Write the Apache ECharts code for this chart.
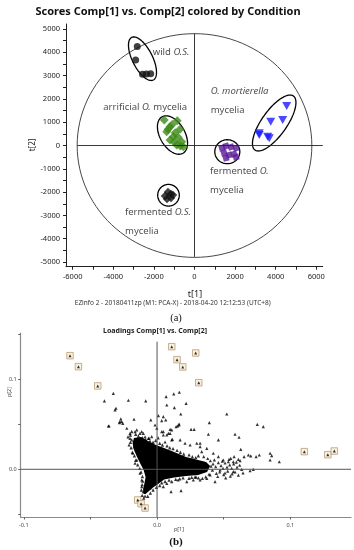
<!DOCTYPE html>
<html><head><meta charset="utf-8">
<script src="https://cdn.jsdelivr.net/npm/echarts@6/dist/echarts.min.js"></script>
<style>html,body{margin:0;padding:0;background:#fff;}#c{width:354px;height:550px;}</style>
</head><body><div id="c"></div>
<script>
// ===== (a) Scores Comp[1] vs Comp[2] =====
const wildOS = [[-2820,4250],[-2900,3670],[-2560,3060],[-2370,3070],[-2160,3080]];
const artificialO = [[-1490,1094],[-850,1064],[-1205,807],[-715,695],[-1370,592],[-1045,378],[-1205,236],[-630,163],[-875,21],[-550,-52],[-1100,900],[-950,550],[-800,350],[-700,-20],[-1000,150],[-1300,700]];
const mortierella = [[4540,1695],[4345,1095],[3755,1020],[3190,525],[3605,380],[3190,450],[3685,310]];
const fermentedO = [[1355,-107],[1550,-21],[1800,-64],[2045,-107],[1455,-322],[1700,-408],[1945,-365],[2045,-494],[1550,-536]];
const fermentedOS = [[-1453,-2167],[-1305,-1996],[-1158,-2082],[-1355,-2296],[-1158,-2253],[-1059,-2124]];
// group ellipses: [cx, cy, semi-axis-1 (dx,dy), semi-axis-2 (dx,dy)] in score units
const groupEllipses = [[-2562,3725,532,-914,440,194],[-1084,451,517,-781,532,266],[3926,966,946,1159,502,-311],[1616,-266,616,0,0,-515],[-1281,-2133,532,0,0,-464]];
const hotelling = [[0,0,5780,0,0,4800]];
const scoreHLine = [[-5780,0],[6320,0]];
const scoreVLine = [[0,4800],[0,-4780]];
const scoreXLabels = [-6000,-4000,-2000,0,2000,4000,6000];
const scoreXTicks = [-6000,-5000,-4000,-3000,-2000,-1000,0,1000,2000,3000,4000,5000,6000];
const scoreYLabels = [-5000,-4000,-3000,-2000,-1000,0,1000,2000,3000,4000,5000];
const scoreYTicks = [-5000,-4500,-4000,-3500,-3000,-2500,-2000,-1500,-1000,-500,0,500,1000,1500,2000,2500,3000,3500,4000,4500,5000];
const scoreNotes = [
  [-2059,3983,'{n|wild }{i|O.S.}'],
  [-4493,1639,'{n|arrificial }{i|O.}{n| mycelia}'],
  [798,2309,'{i|O. mortierella}'],
  [798,1524,'{n|mycelia}'],
  [764,-1124,'{n|fermented }{i|O.}'],
  [764,-1910,'{n|mycelia}'],
  [-3424,-2884,'{n|fermented }{i|O.S.}'],
  [-3424,-3670,'{n|mycelia}']
];

// ===== (b) Loadings Comp[1] vs Comp[2] =====
const loadSparse = [[-0.0395,0.0759],[-0.0328,0.0844],[-0.0215,0.0767],[-0.0085,0.0759],[-0.0315,0.0659],[-0.0308,0.0678],[-0.0272,0.0559],[-0.0265,0.0529],[-0.0283,0.0518],[-0.0173,0.0556],[-0.0047,0.0548],[-0.0360,0.0481],[-0.0227,0.0456],[-0.0152,0.0437],[0.0010,0.0596],[0.0035,0.0540],[0.0065,0.0548],[0.0047,0.0584],[0.0068,0.0807],[0.0073,0.0714],[0.0125,0.0837],[0.0167,0.0856],[0.0130,0.0684],[0.0218,0.0733],[0.0178,0.0614],[0.0155,0.0481],[0.0165,0.0503],[0.0255,0.0444],[0.0278,0.0444],[0.0392,0.0518],[0.0523,0.0614],[0.0385,0.0389],[0.0585,0.0389],[0.0615,0.0356],[0.0752,0.0500],[0.0797,0.0473],[0.0098,0.0444],
[-0.0203,0.0344],[-0.0103,0.0400],[-0.0065,0.0344],[-0.0040,0.0362],[0.0047,0.0418],[0.0085,0.0400],[0.0110,0.0437],[-0.0115,0.0418],[0.0115,0.0333],[0.0460,0.0326],
[0.0628,0.0222],[0.0553,0.0122],[0.0578,0.0140],[0.0610,0.0111],[0.0653,0.0140],[0.0703,0.0148],[0.0743,0.0140],[0.0767,0.0159],[0.0848,0.0178],[0.0860,0.0151],[0.0848,0.0103],[0.0917,0.0084],[0.0698,-0.0016],[0.0722,0.0000],[0.0335,0.0196],[0.0323,0.0289],[0.0685,0.0159],[0.0623,0.0096],[0.0572,0.0084],[0.0572,-0.0027],[0.0105,-0.0249],[0.0180,-0.0238],
[-0.0365,0.0481],[-0.0278,0.0529],[-0.0257,0.0511],[-0.0203,0.0400],[-0.0190,0.0326],[-0.0165,0.0418],[-0.0128,0.0400],[-0.0015,0.0492],[-0.0002,0.0456],[0.0035,0.0418],[0.0047,0.0381],[0.0073,0.0381],[0.0098,0.0400],[0.0165,0.0492],[0.0143,0.0473],[0.0110,0.0326],[0.0173,0.0326],[0.0210,0.0289],[0.0248,0.0270],[0.0298,0.0289],[0.0323,0.0251],[0.0373,0.0233],[0.0422,0.0178],[0.0460,0.0140],[0.0497,0.0103],[0.0535,0.0084],[0.0473,-0.0008],[0.0435,-0.0138],[0.0373,-0.0100],[0.0323,-0.0119],[0.0272,-0.0119],[0.0223,-0.0138],[0.0073,-0.0156],[0.0047,-0.0193],[-0.0115,-0.0193],[-0.0103,-0.0249],[-0.0090,-0.0297],[-0.0152,0.0103],[-0.0165,0.0067],[-0.0182,0.0178],[-0.0128,-0.0044],[-0.0115,-0.0119],
[0.0398,-0.0063],[0.0510,-0.0041],[0.0563,-0.0052],[0.0293,-0.0086],[0.0158,-0.0119],[-0.0030,-0.0163],[-0.0053,-0.0208],[-0.0218,0.0359],[-0.0210,0.0270],[-0.0173,0.0248],[-0.0090,0.0359],[-0.0053,0.0314],[0.0008,0.0348],[0.0060,0.0303]];
// stippled right arm of the cloud
const loadArm = [[0.0400,0.0095],[0.0420,0.0060],[0.0440,0.0030],[0.0415,-0.0010],[0.0445,-0.0045],[0.0460,0.0075],[0.0480,0.0040],[0.0470,-0.0030],[0.0495,0.0010],[0.0500,-0.0060],[0.0510,0.0070],[0.0525,0.0025],[0.0530,-0.0020],[0.0545,0.0050],[0.0550,-0.0075],[0.0560,0.0010],[0.0575,0.0060],[0.0585,-0.0030],[0.0600,0.0025],[0.0610,-0.0065],[0.0620,0.0045],[0.0635,0.0000],[0.0645,-0.0040],[0.0390,-0.0055],[0.0405,0.0035],[0.0430,0.0105],[0.0455,-0.0080],[0.0490,0.0090],[0.0515,-0.0095],[0.0540,0.0110],[0.0595,0.0080],[0.0380,0.0120],[0.0365,-0.0085],[0.0350,0.0140],[0.0340,-0.0100]];
// ragged rim of the dense cloud
const loadRim = [[-0.0200,0.0380],[-0.0190,0.0420],[-0.0160,0.0390],[-0.0140,0.0370],[-0.0110,0.0350],[-0.0085,0.0330],[-0.0060,0.0345],[-0.0030,0.0300],[-0.0010,0.0320],[0.0020,0.0290],[0.0040,0.0270],[0.0075,0.0260],[0.0095,0.0240],[0.0120,0.0230],[0.0150,0.0210],[0.0175,0.0190],[0.0200,0.0170],[0.0240,0.0160],[0.0265,0.0140],[0.0290,0.0130],[0.0310,0.0150],
[-0.0200,0.0300],[-0.0195,0.0240],[-0.0185,0.0190],[-0.0170,0.0150],[-0.0160,0.0100],[-0.0145,0.0050],[-0.0130,0.0010],[-0.0120,-0.0030],[-0.0110,-0.0080],[-0.0108,-0.0130],[-0.0112,-0.0170],[-0.0118,-0.0230],[-0.0112,-0.0290],[-0.0100,-0.0320],
[-0.0070,-0.0300],[-0.0050,-0.0265],[-0.0030,-0.0230],[-0.0005,-0.0200],[0.0020,-0.0180],[0.0035,-0.0150],[0.0060,-0.0135],[0.0090,-0.0120],[0.0110,-0.0135],[0.0140,-0.0110],[0.0170,-0.0105],[0.0195,-0.0095],[0.0240,-0.0100],[0.0260,-0.0090],[0.0285,-0.0085],[0.0310,-0.0095]];
// outline of the solid dense core of loadings
const loadCore = [[-0.0173,0.0348],[-0.0120,0.0359],[-0.0068,0.0314],[-0.0008,0.0270],[0.0053,0.0237],[0.0128,0.0192],[0.0218,0.0137],[0.0308,0.0103],[0.0368,0.0081],[0.0398,0.0037],[0.0375,-0.0030],[0.0308,-0.0063],[0.0218,-0.0074],[0.0128,-0.0091],[0.0053,-0.0113],[0.0008,-0.0163],[-0.0030,-0.0202],[-0.0060,-0.0241],[-0.0086,-0.0274],[-0.0101,-0.0274],[-0.0105,-0.0219],[-0.0094,-0.0152],[-0.0086,-0.0086],[-0.0101,-0.0008],[-0.0128,0.0070],[-0.0150,0.0137],[-0.0173,0.0214],[-0.0184,0.0292]];
const loadMarked = [[-0.0653,0.1262],[-0.0590,0.1140],[-0.0445,0.0926],[0.0110,0.1362],[0.0290,0.1292],[0.0150,0.1218],[0.0193,0.1137],[0.0313,0.0962],[0.1105,0.0196],[0.1281,0.0162],[0.1330,0.0203],[-0.0145,-0.0341],[-0.0120,-0.0382],[-0.0090,-0.0430]];
const loadHLine = [[-0.1023,0],[0.1455,0]];
const loadVLine = [[0,-0.053],[0,0.1418]];
const loadXLabels = [-0.1,0,0.1];
const loadXTicks = [-0.1,-0.05,0,0.05,0.1];
const loadYLabels = [0,0.1];
const loadYTicks = [-0.05,0,0.05,0.1,0.15];

const SANS = '"Noto Sans","Liberation Sans",Arial,sans-serif';

function ellipseRenderer(stroke, width){
  return function(params, api){
    const cx=api.value(0), cy=api.value(1), ax=api.value(2), ay=api.value(3), bx=api.value(4), by=api.value(5);
    const pts=[];
    for(let k=0;k<=120;k++){
      const t=k/120*2*Math.PI, c=Math.cos(t), s=Math.sin(t);
      pts.push(api.coord([cx+c*ax+s*bx, cy+c*ay+s*by]));
    }
    return {type:'polyline', shape:{points:pts}, style:{fill:null, stroke:stroke, lineWidth:width}, silent:true};
  };
}
function coreRenderer(params, api){
  return {type:'polygon', shape:{points:loadCore.map(p=>api.coord(p))}, style:{fill:'#000'}, silent:true};
}

const chart = echarts.init(document.getElementById('c'), null, {renderer:'canvas'});
const tickFmtScore = v => String(v);
const tickFmtLoad = v => v.toFixed(1);
const tri = (data, size) => ({type:'scatter', xAxisIndex:1, yAxisIndex:1, data:data, symbol:'triangle', symbolSize:size, itemStyle:{color:'#000'}});

const option = {
  animation:false,
  backgroundColor:'#fff',
  grid:[
    {left:66, right:31.3, top:24, bottom:283.3},
    {left:20.7, right:3, top:333, bottom:33}
  ],
  xAxis:[
    {type:'value', gridIndex:0, min:-6330, max:6315,
     axisLine:{show:true, onZero:false, lineStyle:{color:'#222', width:1}},
     axisTick:{show:true, customValues:scoreXTicks, length:3, lineStyle:{color:'#222'}},
     axisLabel:{customValues:scoreXLabels, formatter:tickFmtScore, fontSize:7.5, color:'#222', margin:6, fontFamily:SANS},
     splitLine:{show:false}},
    {type:'value', gridIndex:1, min:-0.1023, max:0.1455,
     axisLine:{show:true, onZero:false, lineStyle:{color:'#8a8a8a', width:1.2}},
     axisTick:{show:true, customValues:loadXTicks, length:2.5, lineStyle:{color:'#666'}},
     axisLabel:{customValues:loadXLabels, formatter:tickFmtLoad, fontSize:5.5, color:'#444', margin:5, fontFamily:SANS},
     splitLine:{show:false}}
  ],
  yAxis:[
    {type:'value', gridIndex:0, min:-5200, max:5215,
     axisLine:{show:true, onZero:false, lineStyle:{color:'#222', width:1}},
     axisTick:{show:true, customValues:scoreYTicks, length:3, lineStyle:{color:'#222'}},
     axisLabel:{customValues:scoreYLabels, formatter:tickFmtScore, fontSize:7.5, color:'#222', margin:6, fontFamily:SANS},
     splitLine:{show:false}},
    {type:'value', gridIndex:1, min:-0.053, max:0.1514,
     axisLine:{show:true, onZero:false, lineStyle:{color:'#8a8a8a', width:1.2}},
     axisTick:{show:true, customValues:loadYTicks, length:2.5, lineStyle:{color:'#666'}},
     axisLabel:{customValues:loadYLabels, formatter:tickFmtLoad, fontSize:5.5, color:'#444', margin:4, fontFamily:SANS},
     splitLine:{show:false}}
  ],
  series:[
    // ---- scores ----
    {type:'line', xAxisIndex:0, yAxisIndex:0, data:scoreHLine, symbol:'none', lineStyle:{color:'#222', width:0.9}, silent:true},
    {type:'line', xAxisIndex:0, yAxisIndex:0, data:scoreVLine, symbol:'none', lineStyle:{color:'#222', width:0.9}, silent:true},
    {type:'custom', xAxisIndex:0, yAxisIndex:0, data:hotelling, encode:{x:0,y:1}, renderItem:ellipseRenderer('#333',0.9)},
    {type:'scatter', xAxisIndex:0, yAxisIndex:0, data:wildOS, symbol:'circle', symbolSize:7, itemStyle:{color:'#111'}},
    {type:'scatter', xAxisIndex:0, yAxisIndex:0, data:artificialO, symbol:'rect', symbolRotate:45, symbolSize:6.3, itemStyle:{color:'#3c8a16'}},
    {type:'scatter', xAxisIndex:0, yAxisIndex:0, data:mortierella, symbol:'triangle', symbolRotate:180, symbolSize:[9,8], itemStyle:{color:'#1a1aff'}},
    {type:'scatter', xAxisIndex:0, yAxisIndex:0, data:fermentedO, symbol:'rect', symbolRotate:15, symbolSize:6, itemStyle:{color:'#5a1c98'}},
    {type:'scatter', xAxisIndex:0, yAxisIndex:0, data:fermentedOS, symbol:'rect', symbolRotate:45, symbolSize:6, itemStyle:{color:'#111'}},
    {type:'custom', xAxisIndex:0, yAxisIndex:0, data:groupEllipses, encode:{x:0,y:1}, renderItem:ellipseRenderer('#000',1.3)},
    {type:'scatter', xAxisIndex:0, yAxisIndex:0, data:scoreNotes.map(d=>[d[0],d[1],d[2]]), symbolSize:0, silent:true,
     label:{show:true, position:'right', distance:0, formatter:p=>p.data[2],
       rich:{n:{fontSize:9.5, fontFamily:SANS, color:'#222'}, i:{fontSize:9.5, fontFamily:SANS, fontStyle:'italic', color:'#222'}}}},
    // ---- loadings ----
    {type:'line', xAxisIndex:1, yAxisIndex:1, data:loadHLine, symbol:'none', lineStyle:{color:'#555', width:1}, silent:true},
    {type:'line', xAxisIndex:1, yAxisIndex:1, data:loadVLine, symbol:'none', lineStyle:{color:'#555', width:1}, silent:true},
    {type:'custom', xAxisIndex:1, yAxisIndex:1, data:[[0,0]], encode:{x:0,y:1}, renderItem:coreRenderer},
    tri(loadRim, 3.4),
    tri(loadArm, 3.2),
    tri(loadSparse, 3.2),
    {type:'scatter', xAxisIndex:1, yAxisIndex:1, data:loadMarked, symbol:'rect', symbolSize:6.5, itemStyle:{color:'#f6eedb', borderColor:'#b39264', borderWidth:0.9}},
    tri(loadMarked, 3)
  ],
  graphic:[
    {type:'text', x:168, y:12, style:{text:'Scores Comp[1] vs. Comp[2] colored by Condition', font:'bold 11px '+SANS, fill:'#111', align:'center', verticalAlign:'middle'}},
    {type:'text', x:33, y:145, rotation:Math.PI/2, style:{text:'t[2]', font:'8px '+SANS, fill:'#222', align:'center', verticalAlign:'middle'}},
    {type:'text', x:195, y:294, style:{text:'t[1]', font:'9px '+SANS, fill:'#222', align:'center', verticalAlign:'middle'}},
    {type:'text', x:172.7, y:303, style:{text:'EZinfo 2 - 20180411zp (M1: PCA-X) - 2018-04-20 12:12:53 (UTC+8)', font:'6.5px '+SANS, fill:'#333', align:'center', verticalAlign:'middle'}},
    {type:'text', x:176, y:318, style:{text:'(a)', font:'10.5px "Liberation Serif","Times New Roman",serif', fill:'#111', align:'center', verticalAlign:'middle'}},
    {type:'text', x:155, y:331, style:{text:'Loadings Comp[1] vs. Comp[2]', font:'bold 7px '+SANS, fill:'#222', align:'center', verticalAlign:'middle'}},
    {type:'text', x:9, y:392, rotation:Math.PI/2, style:{text:'p[2]', font:'5.5px '+SANS, fill:'#444', align:'center', verticalAlign:'middle'}},
    {type:'text', x:179, y:529, style:{text:'p[1]', font:'5.5px '+SANS, fill:'#444', align:'center', verticalAlign:'middle'}},
    {type:'text', x:176, y:542, style:{text:'(b)', font:'bold 11px "Liberation Serif","Times New Roman",serif', fill:'#111', align:'center', verticalAlign:'middle'}}
  ]
};
chart.setOption(option);
</script></body></html>
